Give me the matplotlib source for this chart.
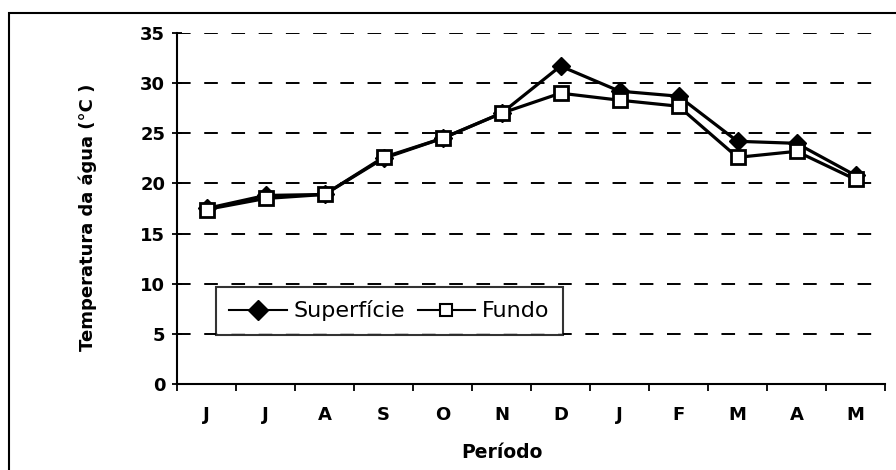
import matplotlib
matplotlib.use('Agg')
import matplotlib.pyplot as plt
from matplotlib.patches import Rectangle

# meses (junho a maio)
meses = ['J', 'J', 'A', 'S', 'O', 'N', 'D', 'J', 'F', 'M', 'A', 'M']
superficie = [17.5, 18.8, 18.9, 22.5, 24.5, 27.0, 31.7, 29.2, 28.7, 24.2, 24.0, 20.8]
fundo = [17.4, 18.5, 18.9, 22.6, 24.5, 27.0, 29.0, 28.3, 27.7, 22.6, 23.2, 20.4]
y_ticks = [0, 5, 10, 15, 20, 25, 30, 35]

plt.rcParams['font.family'] = ['DejaVu Sans']

W, H = 896, 470
fig = plt.figure(figsize=(W / 100, H / 100), dpi=100)
ax = fig.add_axes([177 / W, 1 - 384 / H, (885 - 177) / W, (384 - 33) / H])

# moldura do grafico (recortada a direita e em baixo)
fig.patches.append(Rectangle((9 / W, -0.05), 1.2, 1 - 13 / H + 0.05,
                             transform=fig.transFigure, fill=False,
                             edgecolor='black', linewidth=1.5))

x = list(range(len(meses)))
ax.plot(x, superficie, color='black', linewidth=2.3, marker='D',
        markersize=9, markerfacecolor='black', markeredgecolor='black',
        label='Superfície', zorder=3)
ax.plot(x, fundo, color='black', linewidth=2.3, marker='s',
        markersize=9.5, markerfacecolor='white', markeredgecolor='black',
        markeredgewidth=2, label='Fundo', zorder=4)

ax.set_xlim(-0.5, len(meses) - 0.5)
ax.set_ylim(0, 35)
ax.set_yticks(y_ticks)
ax.set_xticks(x)
ax.set_xticklabels(meses, fontsize=13, fontweight='bold')
ax.set_xticks([i - 0.5 for i in range(len(meses) + 1)], minor=True)
ax.tick_params(axis='x', which='major', length=0, pad=16)
ax.tick_params(axis='x', which='minor', length=5, width=1.3, direction='out')
ax.tick_params(axis='y', length=7, width=1.3, direction='inout', labelsize=13, pad=5)
for lab in ax.get_yticklabels():
    lab.set_fontweight('bold')

for v in y_ticks[1:]:
    ax.axhline(v, color='black', linewidth=1.4, linestyle=(0, (7, 7)),
               xmax=0.99, zorder=1)

for s in ['top', 'right']:
    ax.spines[s].set_visible(False)
for s in ['left', 'bottom']:
    ax.spines[s].set_linewidth(1.5)

ax.set_xlabel('Período', fontsize=13.5, fontweight='bold')
ax.xaxis.set_label_coords((502 - 177) / (885 - 177), -(443 - 384) / (384 - 33))
ax.set_ylabel('Temperatura da água (°C )', fontsize=13, fontweight='bold')
ax.yaxis.set_label_coords(-(177 - 97) / (885 - 177), (384 - 217) / (384 - 33))

leg = ax.legend(loc='center', bbox_to_anchor=(0.300, 0.208),
                ncol=2, fontsize=16, frameon=True, fancybox=False,
                handlelength=2.6, handletextpad=0.3, columnspacing=0.55,
                borderaxespad=0, borderpad=0.6)
leg.get_frame().set_edgecolor('black')
leg.get_frame().set_linewidth(1.5)
for h in leg.legend_handles:
    h.set_linewidth(1.5)
leg.legend_handles[0].set_markersize(10)
leg.legend_handles[1].set_markersize(9)
leg.legend_handles[1].set_markeredgewidth(1.5)
leg.set_zorder(5)

fig.savefig('out.png', dpi=100, facecolor='white')
